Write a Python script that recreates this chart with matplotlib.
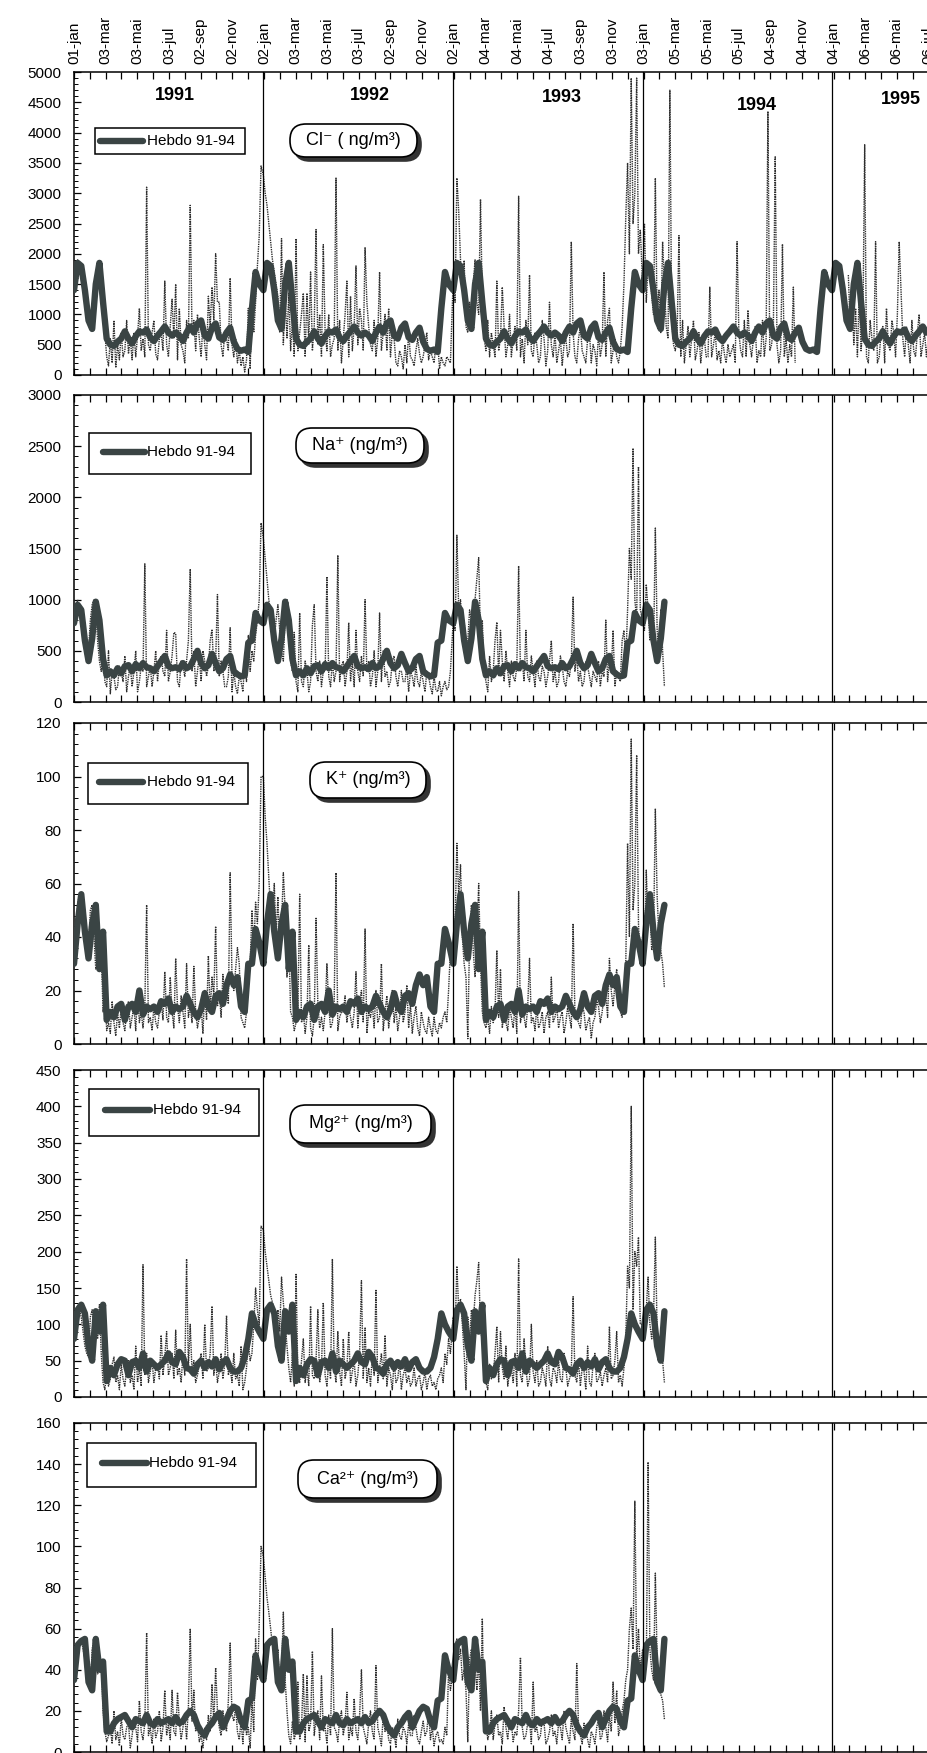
import datetime as dt
import matplotlib
matplotlib.use("Agg")
import matplotlib.pyplot as plt
from matplotlib.patches import Rectangle, FancyBboxPatch
from matplotlib.lines import Line2D
from matplotlib.ticker import MultipleLocator

nan = float("nan")

# ---- weekly mean profile ("Hebdo 91-94"), one value per week ----
CL_THICK = [1400, 1850, 1800, 1400, 900, 760, 1500, 1850, 1200, 600,
            500, 480, 550, 600, 720, 600, 520, 640, 720, 700,
            750, 620, 560, 650, 720, 800, 700, 650, 700, 650,
            560, 700, 800, 700, 850, 900, 650, 600, 780, 850,
            620, 580, 700, 780, 550, 430, 400, 420, 380, 1100,
            1700, 1500]
NA_THICK = [770, 950, 900, 600, 400, 620, 980, 800, 420, 260,
            300, 260, 330, 280, 350, 360, 300, 370, 330, 380,
            340, 330, 300, 350, 400, 450, 350, 330, 340, 320,
            380, 330, 350, 420, 500, 380, 330, 360, 470, 380,
            300, 330, 420, 450, 300, 270, 250, 260, 580, 600,
            870, 800]
K_THICK = [30, 45, 56, 42, 32, 45, 52, 28, 42, 9,
           12, 10, 14, 15, 9, 14, 15, 12, 20, 11,
           14, 13, 14, 12, 16, 15, 17, 12, 14, 13,
           14, 18, 15, 12, 10, 13, 19, 14, 12, 18,
           19, 15, 22, 26, 22, 25, 14, 12, 30, 30,
           43, 38]
MG_THICK = [80, 120, 127, 115, 70, 50, 118, 90, 127, 22,
            40, 30, 45, 52, 50, 30, 48, 50, 40, 60,
            35, 50, 45, 40, 45, 50, 60, 48, 45, 62,
            55, 40, 38, 32, 45, 50, 40, 48, 42, 52,
            38, 48, 52, 40, 35, 35, 40, 55, 80, 115,
            100, 90]
CA_THICK = [35, 52, 54, 55, 34, 30, 55, 40, 44, 10,
            10, 14, 16, 17, 18, 15, 12, 16, 15, 14,
            18, 14, 13, 16, 14, 15, 16, 14, 17, 14,
            15, 18, 20, 18, 13, 10, 8, 12, 14, 17,
            19, 12, 16, 20, 22, 21, 15, 12, 25, 26,
            47, 40]

# ---- individual samples (two per week) ----
CL_DOT_91 = [1350, 1500, 1900, 1800, 1750, 1600, 1300, 1100,
             850, 750, 800, 1200, 1600, 1850, 1800, 1300,
             900, 700, 300, 150, 600, 200, 900, 120,
             500, 250, 700, 300, 400, 900, 350, 600,
             250, 700, 300, 650, 1100, 400, 600, 300,
             3100, 500, 400, 700, 900, 350, 250, 600,
             700, 400, 1550, 500, 300, 800, 1250, 600,
             1500, 250, 1100, 500, 400, 200, 900, 600,
             2800, 700, 900, 400, 1000, 600, 300, 850,
             500, 250, 1300, 800, 1450, 900, 2000, 1200,
             1200, 500, 300, 700, 600, 400, 1600, 500,
             300, 600, 200, 400, 150, 300, 50, 250,
             1100, 100, 1100, 700, 1200, 1800, 2300, 3450]
CL_DOT_92 = [3300, 3000, 2800, 2500, 2200, 1900, 1700, 1500,
             1300, 700, 2250, 500, 1300, 600, 1350, 400,
             900, 300, 2250, 400, 700, 1000, 1350, 300,
             1350, 500, 1700, 400, 800, 2400, 500, 1000,
             300, 2150, 700, 400, 1000, 300, 500, 600,
             3250, 400, 900, 200, 600, 1000, 1550, 300,
             1300, 400, 800, 1800, 500, 1100, 900, 400,
             2100, 1200, 800, 500, 400, 900, 300, 600,
             1700, 400, 700, 1000, 400, 1100, 300, 700,
             600, 200, 150, 400, 300, 100, 500, 200,
             700, 300, 250, 150, 400, 600, 350, 200,
             300, 500, 700, 250, 400, 300, 200, 500,
             550, 100, 300, 200, 150, 300, 250, 200]
CL_DOT_93 = [1600, 1200, 3250, 2700, 1900, 1400, 1890, 800,
             700, 1200, 800, 1500, 1900, 1200, 1000, 2900,
             1200, 600, 400, 900, 300, 700, 500, 300,
             1550, 400, 600, 1450, 800, 300, 500, 1000,
             300, 600, 800, 400, 2950, 300, 600, 200,
             900, 500, 1650, 400, 300, 700, 500, 200,
             300, 900, 600, 150, 400, 1200, 500, 300,
             700, 200, 400, 600, 150, 500, 600, 300,
             400, 2200, 700, 300, 200, 600, 800, 400,
             300, 200, 600, 700, 200, 500, 400, 150,
             700, 300, 500, 1700, 300, 900, 1100, 200,
             400, 600, 300, 200, 400, 800, 1500, 2600,
             3500, 2000, 4900, 2500, 3000, 4900, 2000, 2400]
CL_DOT_94 = [1500, 2500, 1200, 1800, 1700, 1300, 1000, 3250,
             900, 1400, 700, 2200, 1500, 800, 600, 4700,
             900, 500, 400, 700, 2300, 300, 900, 200,
             500, 800, 300, 600, 900, 250, 400, 700,
             200, 500, 600, 300, 300, 1450, 300, 500,
             700, 250, 400, 200, 600, 350, 200, 500,
             300, 400, 500, 200, 2200, 700, 400, 300,
             900, 300, 1070, 500, 300, 600, 800, 200,
             400, 300, 900, 300, 600, 4350, 400, 500,
             800, 3600, 500, 200, 400, 2160, 300, 600,
             200, 500, 300, 1450, 200, nan, nan, nan,
             nan, nan, nan, nan, nan, nan, nan, nan,
             nan, nan, nan, nan, nan, nan, nan, nan]
CL_DOT_95 = [nan, nan, nan, nan, nan, nan, nan, nan,
             nan, 1650, 800, 1400, 500, 1100, 300, 1400,
             400, 800, 3800, 300, 200, 900, 600, 400,
             2200, 200, 300, 700, 800, 200, 1100, 500,
             400, 900, 700, 300, 1000, 2200, 1400, 600,
             300, 800, 500, 200, 900, 400, 300, 700,
             1000, 300, 500, 700, 300, 600]

NA_DOT_91 = [750, 900, 1000, 900, 850, 600, 500, 400,
             500, 800, 950, 1000, 900, 600, 400, 300,
             500, 200, 150, 500, 80, 300, 250, 120,
             150, 350, 300, 200, 450, 100, 250, 350,
             150, 300, 500, 100, 200, 350, 300, 1350,
             150, 250, 350, 150, 300, 500, 200, 400,
             450, 300, 250, 700, 200, 300, 450, 680,
             670, 200, 150, 400, 350, 250, 400, 600,
             1300, 300, 500, 150, 300, 450, 200, 500,
             400, 250, 350, 600, 710, 300, 400, 1050,
             250, 400, 300, 150, 150, 250, 725, 100,
             300, 150, 80, 250, 200, 100, 400, 200,
             650, 300, 500, 400, 650, 800, 1000, 1750]
NA_DOT_92 = [1600, 1400, 1200, 1000, 850, 700, 600, 800,
             950, 700, 500, 400, 850, 1000, 600, 400,
             300, 680, 200, 100, 870, 200, 150, 400,
             300, 100, 200, 750, 950, 300, 200, 400,
             150, 300, 300, 1225, 250, 150, 400, 200,
             300, 1435, 200, 350, 400, 150, 300, 775,
             200, 400, 150, 700, 300, 200, 450, 250,
             1000, 300, 400, 150, 250, 500, 150, 300,
             870, 200, 500, 250, 300, 150, 200, 400,
             450, 250, 150, 300, 300, 200, 200, 350,
             100, 300, 250, 150, 350, 200, 150, 300,
             200, 100, 300, 250, 150, 80, 250, 120,
             100, 200, 60, 150, 200, 120, 150, 300]
NA_DOT_93 = [800, 700, 1630, 900, 1000, 700, 800, 500,
             600, 900, 800, 700, 1000, 1200, 1410, 600,
             800, 300, 200, 100, 450, 200, 300, 600,
             780, 250, 700, 400, 200, 500, 300, 150,
             400, 250, 200, 350, 1330, 300, 400, 200,
             700, 250, 200, 450, 300, 150, 400, 250,
             200, 350, 300, 150, 250, 400, 600, 200,
             300, 150, 200, 450, 350, 200, 150, 300,
             250, 400, 1025, 300, 450, 200, 300, 150,
             200, 400, 350, 250, 150, 300, 250, 200,
             400, 150, 300, 250, 800, 200, 400, 300,
             700, 150, 300, 250, 200, 600, 700, 400,
             900, 1500, 1200, 2480, 1000, 800, 2300, 900]
NA_DOT_94 = [800, 700, 1150, 900, 600, 800, 500, 1700, 700, 400, 900, 500, 150]

K_DOT_91 = [30, 42, 52, 56, 55, 48, 38, 33,
            35, 50, 52, 40, 28, 30, 42, 35,
            12, 20, 5, 8, 4, 16, 8, 3,
            12, 6, 14, 8, 5, 12, 16, 6,
            10, 14, 5, 20, 8, 12, 6, 14,
            52, 8, 10, 5, 14, 8, 6, 12,
            16, 9, 27, 10, 8, 25, 12, 6,
            32, 14, 8, 18, 12, 6, 30, 10,
            14, 8, 29, 12, 6, 10, 14, 4,
            20, 9, 33, 12, 25, 18, 44, 14,
            20, 10, 26, 18, 22, 15, 64, 25,
            20, 28, 36, 30, 10, 8, 6, 12,
            28, 30, 50, 35, 53, 45, 60, 100]
K_DOT_92 = [100, 85, 75, 62, 50, 45, 60, 40,
            55, 35, 45, 64, 50, 25, 40, 12,
            10, 5, 8, 12, 56, 8, 12, 4,
            10, 37, 6, 3, 10, 47, 15, 6,
            10, 5, 12, 30, 14, 6, 8, 16,
            64, 5, 10, 12, 12, 18, 8, 14,
            10, 6, 12, 27, 6, 16, 20, 8,
            43, 4, 12, 10, 15, 6, 20, 8,
            10, 30, 5, 12, 18, 6, 12, 20,
            8, 14, 5, 10, 20, 8, 12, 22,
            6, 15, 4, 10, 14, 6, 3, 12,
            8, 5, 4, 10, 6, 3, 10, 5,
            4, 8, 6, 10, 12, 8, 20, 35]
K_DOT_93 = [30, 45, 75, 55, 67, 40, 30, 25,
            2, 40, 52, 35, 25, 40, 60, 30,
            12, 8, 6, 10, 4, 14, 8, 12,
            35, 10, 28, 6, 12, 8, 5, 14,
            10, 6, 14, 4, 57, 8, 12, 10,
            6, 14, 32, 8, 10, 5, 14, 6,
            8, 12, 4, 10, 12, 6, 25, 8,
            10, 14, 6, 10, 12, 4, 8, 14,
            10, 6, 45, 12, 10, 8, 6, 14,
            12, 5, 8, 10, 2, 8, 10, 16,
            14, 8, 12, 18, 18, 10, 32, 20,
            14, 22, 28, 18, 12, 10, 20, 30,
            75, 40, 114, 50, 60, 108, 45, 30]
K_DOT_94 = [40, 30, 65, 45, 50, 35, 40, 88, 55, 40, 35, 30, 21]

MG_DOT_91 = [80, 110, 125, 120, 110, 90, 70, 60,
             55, 110, 120, 90, 100, 80, 127, 60,
             20, 10, 35, 15, 25, 45, 55, 20,
             30, 10, 45, 25, 15, 40, 50, 20,
             30, 10, 70, 20, 40, 15, 182, 30,
             60, 20, 35, 50, 20, 40, 45, 25,
             85, 30, 55, 90, 30, 40, 60, 25,
             92, 30, 40, 20, 60, 30, 190, 40,
             100, 35, 50, 20, 30, 45, 60, 25,
             100, 35, 40, 60, 125, 30, 50, 20,
             35, 60, 25, 45, 112, 30, 40, 20,
             60, 25, 30, 15, 70, 10, 20, 40,
             75, 50, 60, 100, 150, 120, 100, 235]
MG_DOT_92 = [230, 200, 180, 160, 140, 130, 100, 80,
             120, 90, 165, 130, 100, 70, 40, 20,
             60, 15, 170, 30, 20, 50, 80, 20,
             40, 15, 125, 30, 25, 50, 120, 20,
             40, 130, 30, 15, 50, 25, 190, 40,
             20, 90, 35, 15, 80, 25, 40, 90,
             20, 35, 50, 15, 30, 60, 160, 25,
             95, 20, 40, 15, 60, 30, 148, 20,
             40, 60, 25, 85, 15, 40, 30, 10,
             50, 20, 25, 50, 10, 30, 40, 20,
             30, 15, 20, 40, 15, 25, 30, 10,
             20, 35, 10, 25, 30, 15, 20, 10,
             25, 30, 40, 20, 60, 45, 80, 60]
MG_DOT_93 = [110, 90, 180, 120, 135, 100, 60, 10,
             110, 80, 120, 100, 140, 160, 185, 90,
             80, 40, 20, 10, 45, 25, 30, 60,
             97, 20, 90, 40, 25, 70, 15, 35,
             40, 20, 60, 15, 190, 30, 20, 80,
             40, 15, 25, 100, 35, 20, 50, 15,
             20, 40, 30, 15, 70, 25, 15, 40,
             35, 20, 50, 25, 20, 60, 40, 15,
             25, 35, 138, 30, 20, 50, 15, 40,
             35, 10, 70, 20, 15, 45, 60, 20,
             25, 35, 15, 30, 40, 20, 97, 25,
             30, 50, 90, 20, 30, 15, 40, 80,
             180, 150, 400, 120, 200, 180, 220, 100]
MG_DOT_94 = [100, 90, 120, 165, 100, 80, 110, 220, 90, 60, 80, 50, 20]

CA_DOT_91 = [35, 50, 52, 54, 55, 50, 45, 35,
             32, 30, 50, 55, 45, 38, 40, 44,
             20, 10, 5, 8, 12, 4, 20, 6,
             10, 3, 17, 8, 6, 12, 14, 2,
             8, 16, 12, 5, 25, 10, 6, 14,
             58, 8, 12, 4, 16, 7, 10, 20,
             5, 12, 30, 8, 14, 6, 30, 10,
             8, 29, 15, 6, 12, 18, 6, 22,
             60, 15, 30, 10, 14, 5, 8, 2,
             12, 6, 18, 10, 33, 14, 41, 20,
             12, 8, 20, 14, 10, 25, 53, 18,
             15, 22, 10, 6, 15, 4, 20, 8,
             12, 2, 25, 10, 55, 35, 62, 100]
CA_DOT_92 = [95, 85, 75, 68, 60, 52, 48, 40,
             50, 30, 38, 68, 35, 20, 8, 4,
             15, 6, 10, 34, 6, 12, 38, 5,
             37, 10, 14, 49, 8, 16, 20, 6,
             37, 10, 12, 4, 18, 8, 60, 12,
             10, 5, 16, 20, 8, 14, 29, 6,
             12, 8, 26, 10, 6, 18, 40, 12,
             8, 4, 14, 20, 10, 6, 42, 12,
             8, 3, 18, 10, 14, 6, 4, 12,
             10, 2, 16, 8, 6, 12, 10, 4,
             14, 8, 8, 18, 12, 6, 4, 10,
             15, 8, 10, 20, 6, 12, 3, 8,
             10, 5, 6, 4, 12, 8, 40, 30]
CA_DOT_93 = [40, 52, 55, 45, 50, 35, 40, 30,
             5, 45, 50, 38, 44, 30, 45, 20,
             65, 10, 15, 6, 10, 20, 6, 14,
             18, 8, 10, 4, 22, 12, 6, 16,
             14, 5, 10, 8, 20, 46, 12, 6,
             8, 14, 16, 4, 34, 10, 12, 6,
             8, 16, 14, 4, 6, 10, 18, 8,
             10, 4, 14, 12, 6, 20, 12, 8,
             4, 16, 10, 6, 43, 12, 8, 4,
             14, 10, 6, 2, 10, 8, 4, 12,
             16, 6, 8, 20, 12, 5, 18, 10,
             34, 14, 30, 8, 12, 20, 25, 35,
             40, 60, 70, 50, 122, 45, 60, 40]
CA_DOT_94 = [50, 45, 40, 141, 50, 40, 35, 87, 45, 30, 28, 25, 16]

ION_LABELS = ['Cl\u207b ( ng/m\u00b3)', 'Na\u207a (ng/m\u00b3)', 'K\u207a (ng/m\u00b3)',
              'Mg\u00b2\u207a (ng/m\u00b3)', 'Ca\u00b2\u207a (ng/m\u00b3)']
YEARS = ['1991', '1992', '1993', '1994', '1995']
MOIS = ['jan', 'fév', 'mar', 'avr', 'mai', 'juin', 'jul', 'aoû', 'sep', 'oct', 'nov', 'déc']

# ---- layout (pixels of the 928 x 1753 page) ----
W, H = 928, 1753
X0 = 74                       # left spine
PX_PER_DAY = (832 - 74) / 1461.0
PANELS = [(72, 375), (395, 702), (723, 1044), (1070, 1397), (1423, 1752)]
YLIMS = [(5000, 500, 100), (3000, 500, 100), (120, 20, 4), (450, 50, 10), (160, 20, 4)]
LEGENDS = [(95, 128, 245, 154, 100, 143, 141, 147),
           (89, 433, 251, 474, 103, 145, 452, 147),
           (88, 763, 248, 804, 99, 143, 782, 147),
           (89, 1089, 259, 1136, 105, 150, 1110, 153),
           (87, 1443, 256, 1487, 102, 147, 1463, 149)]
LABEL_BOX = [(290, 124, 417, 157), (296, 428, 424, 463), (310, 762, 426, 798),
             (290, 1105, 431, 1143), (298, 1460, 437, 1498)]
YEAR_POS = [(175, 96), (370, 96), (562, 98), (757, 105), (901, 100)]

THICK = '#3a4444'
DOT = '#2e2e2e'

plt.rcParams['font.family'] = ['Liberation Sans', 'DejaVu Sans']

START = dt.datetime(1991, 1, 1)
NDAYS = 1648


def series(blocks, step_days):
    xs, ys = [], []
    for year, vals in blocks:
        for i, v in enumerate(vals):
            xs.append(dt.datetime(year, 1, 1) + dt.timedelta(days=step_days * i))
            ys.append(v)
    return xs, ys


thick_blocks = [
    [(1991, CL_THICK), (1992, CL_THICK), (1993, CL_THICK), (1994, CL_THICK), (1995, CL_THICK[:27])],
    [(1991, NA_THICK), (1992, NA_THICK), (1993, NA_THICK), (1994, NA_THICK[:7])],
    [(1991, K_THICK), (1992, K_THICK), (1993, K_THICK), (1994, K_THICK[:7])],
    [(1991, MG_THICK), (1992, MG_THICK), (1993, MG_THICK), (1994, MG_THICK[:7])],
    [(1991, CA_THICK), (1992, CA_THICK), (1993, CA_THICK), (1994, CA_THICK[:7])],
]
dot_blocks = [
    [(1991, CL_DOT_91), (1992, CL_DOT_92), (1993, CL_DOT_93), (1994, CL_DOT_94), (1995, CL_DOT_95)],
    [(1991, NA_DOT_91), (1992, NA_DOT_92), (1993, NA_DOT_93), (1994, NA_DOT_94)],
    [(1991, K_DOT_91), (1992, K_DOT_92), (1993, K_DOT_93), (1994, K_DOT_94)],
    [(1991, MG_DOT_91), (1992, MG_DOT_92), (1993, MG_DOT_93), (1994, MG_DOT_94)],
    [(1991, CA_DOT_91), (1992, CA_DOT_92), (1993, CA_DOT_93), (1994, CA_DOT_94)],
]

fig = plt.figure(figsize=(W / 100, H / 100), dpi=100)

major = [START + dt.timedelta(days=61 * k) for k in range(28)]
minor = [START + dt.timedelta(days=61 * k + 30.5) for k in range(27)]
xright = X0 + NDAYS * PX_PER_DAY

for i, (top, bot) in enumerate(PANELS):
    ax = fig.add_axes([X0 / W, 1 - bot / H, (xright - X0) / W, (bot - top) / H])
    xd, yd = series(dot_blocks[i], 3.5)
    ax.plot(xd, yd, color=DOT, lw=1.0, ls=(0, (1, 0.7)), zorder=2)
    xt, yt = series(thick_blocks[i], 7)
    ax.plot(xt, yt, color=THICK, lw=4.6, solid_joinstyle='round', solid_capstyle='round', zorder=3)

    for yr in (1992, 1993, 1994, 1995):
        ax.axvline(dt.datetime(yr, 1, 1), color='black', lw=0.9, zorder=4)

    ymax, ymaj, ymin = YLIMS[i]
    ax.set_ylim(0, ymax)
    ax.yaxis.set_major_locator(MultipleLocator(ymaj))
    ax.yaxis.set_minor_locator(MultipleLocator(ymin))
    ax.set_xlim(START, START + dt.timedelta(days=NDAYS))
    ax.set_xticks(major)
    ax.set_xticks(minor, minor=True)
    ax.tick_params(axis='x', which='both', direction='in', top=True, bottom=True,
                   length=5, width=0.9)
    ax.tick_params(axis='y', which='major', direction='in', length=5, width=0.9,
                   labelsize=11, pad=9)
    ax.tick_params(axis='y', which='minor', direction='in', length=3, width=0.7)
    if i == 0:
        ax.set_xticklabels(['%02d-%s' % (d.day, MOIS[d.month - 1]) for d in major])
        ax.tick_params(axis='x', labeltop=True, labelbottom=False, labelrotation=90,
                       labelsize=11, pad=6)
        for lab in ax.get_xticklabels():
            lab.set_verticalalignment('bottom')
    else:
        ax.tick_params(axis='x', labelbottom=False)
    ax.spines['right'].set_visible(False)
    for s in ('left', 'top', 'bottom'):
        ax.spines[s].set_linewidth(1.1)

    # legend box
    bx0, by0, bx1, by1, lx0, lx1, ly, tx = LEGENDS[i]
    fig.add_artist(Rectangle((bx0 / W, 1 - by1 / H), (bx1 - bx0) / W, (by1 - by0) / H,
                             transform=fig.transFigure, fill=True, fc='white',
                             ec='black', lw=1.1, zorder=5))
    fig.add_artist(Line2D([lx0 / W, lx1 / W], [1 - ly / H] * 2, transform=fig.transFigure,
                          color=THICK, lw=4.6, solid_capstyle='round', zorder=6))
    fig.text(tx / W, 1 - ly / H, 'Hebdo 91-94', fontsize=11, ha='left', va='center', zorder=6)

    # ion label: rounded box with a drop shadow
    x0, y0, x1, y1 = LABEL_BOX[i]
    for dx, fc, ec in ((4, '#333333', '#333333'), (0, 'white', 'black')):
        fig.add_artist(FancyBboxPatch(((x0 + dx) / 100, (H - y1 - dx) / 100),
                                      (x1 - x0) / 100, (y1 - y0) / 100,
                                      boxstyle='round,pad=0,rounding_size=0.16',
                                      transform=fig.dpi_scale_trans, fc=fc, ec=ec,
                                      lw=1.2, zorder=5 + (dx == 0)))
    fig.text((x0 + x1) / 2 / W, 1 - (y0 + y1) / 2 / H, ION_LABELS[i], fontsize=13,
             ha='center', va='center', zorder=7)

for (x, y), yr in zip(YEAR_POS, YEARS):
    fig.text(x / W, 1 - y / H, yr, fontsize=13, fontweight='bold', ha='center', va='center')

fig.savefig('out.png', dpi=100)
